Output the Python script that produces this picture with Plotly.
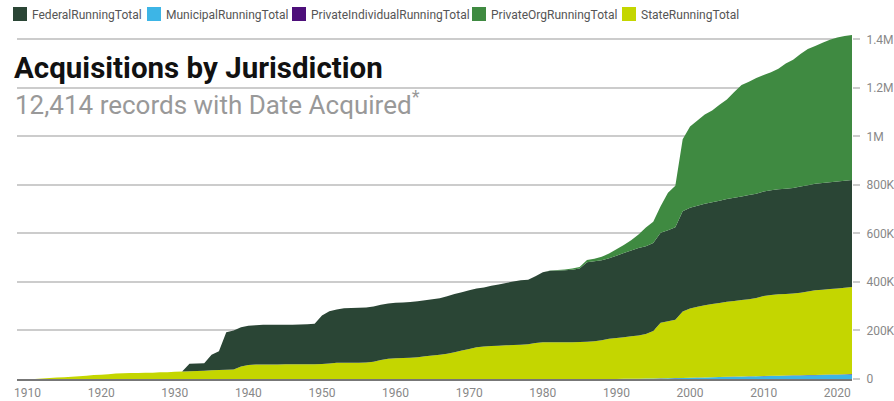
import plotly.graph_objects as go

# Running totals of acquired area by jurisdiction, one value per year (1908-2022)
years = list(range(1908, 2023))

federal = [
    0, 0,
    0, 0, 0, 0, 0, 0, 0, 0, 0, 0,                                                # 1910s
    0, 0, 0, 0, 0, 0, 0, 0, 0, 0,                                                # 1920s
    0, 0, 30700, 30700, 30700, 64000, 77700, 155000, 160000, 161000,             # 1930s
    161500, 162500, 163500, 163500, 163500, 163500, 163500, 164000, 165000, 167000,  # 1940s
    200500, 215000, 220500, 225000, 226000, 227000, 227500, 228000, 228000, 228000,  # 1950s
    228500, 229000, 230000, 230500, 231000, 231500, 233000, 237000, 240000, 241000,  # 1960s
    241500, 242000, 243000, 248000, 252500, 257000, 262000, 265500, 266000, 276000,  # 1970s
    289000, 294500, 295500, 296200, 298000, 302000, 327000, 329000, 330000, 332000,  # 1980s
    339000, 347000, 354000, 361000, 362000, 363000, 371000, 375000, 381000, 414000,  # 1990s
    415000, 416000, 418000, 420000, 422000, 424000, 425000, 426000, 429000, 430000,  # 2000s
    431000, 432000, 433000, 434000, 435000, 437000, 438000, 439000, 439500, 440000,  # 2010s
    440500, 441000, 441500,                                                      # 2020s
]

municipal = [
    0, 0,
    0, 0, 0, 0, 0, 0, 0, 0, 0, 0,
    0, 0, 0, 0, 0, 0, 0, 0, 0, 0,
    0, 0, 0, 0, 0, 0, 0, 0, 0, 0,
    0, 0, 0, 0, 0, 0, 0, 0, 0, 0,
    0, 0, 0, 0, 0, 0, 0, 0, 0, 0,
    0, 0, 0, 0, 0, 0, 0, 0, 0, 0,
    0, 0, 0, 0, 0, 0, 0, 0, 0, 0,
    0, 0, 0, 0, 0, 0, 0, 0, 0, 0,
    300, 600, 900, 1200, 1600, 2000, 2500, 3000, 3500, 4000,
    4800, 5500, 6200, 7000, 7800, 8500, 9200, 9800, 10400, 11000,
    11700, 12300, 12900, 13500, 14100, 14700, 15300, 15900, 16500, 17100,
    17700, 18300, 19000,
]

private_individual = [
    0, 0,
    0, 0, 0, 0, 0, 0, 0, 0, 0, 0,
    0, 0, 0, 0, 0, 0, 0, 0, 0, 0,
    0, 0, 0, 0, 0, 0, 0, 0, 0, 0,
    0, 0, 0, 0, 0, 0, 0, 0, 0, 0,
    0, 0, 0, 0, 0, 0, 0, 0, 0, 0,
    0, 0, 0, 0, 0, 0, 0, 0, 0, 0,
    0, 0, 0, 0, 0, 0, 0, 0, 0, 0,
    0, 0, 0, 0, 0, 0, 0, 0, 0, 0,
    100, 120, 150, 180, 200, 230, 260, 300, 330, 360,
    400, 430, 460, 500, 530, 560, 600, 630, 660, 700,
    730, 760, 800, 830, 860, 900, 930, 960, 1000, 1030,
    1060, 1100, 1130,
]

private_org = [
    0, 0,
    0, 0, 0, 0, 0, 0, 0, 0, 0, 0,
    0, 0, 0, 0, 0, 0, 0, 0, 0, 0,
    0, 0, 0, 0, 0, 0, 0, 0, 0, 0,
    0, 0, 0, 0, 0, 0, 0, 0, 0, 0,
    0, 0, 0, 0, 0, 0, 0, 0, 0, 0,
    0, 0, 0, 0, 0, 0, 0, 0, 0, 0,
    0, 0, 0, 0, 0, 0, 0, 0, 0, 0,
    0, 1000, 2000, 3000, 5000, 7000, 10000, 11000, 14000, 19000,
    27000, 33000, 42000, 56000, 78000, 87000, 109000, 155000, 172000, 296000,
    335000, 352000, 368000, 378000, 395000, 410000, 436000, 460000, 467000, 477000,
    480000, 487000, 497000, 516000, 529000, 547000, 561000, 568000, 578500, 587000,
    594000, 597000, 597500,
]

state = [
    0, 0,
    0, 500, 2000, 4000, 6000, 7500, 9000, 11000, 13000, 17000,
    18000, 20000, 23000, 24000, 24500, 25000, 25500, 26000, 27500, 28000,
    29500, 30500, 32000, 33000, 34500, 36000, 37000, 38000, 39500, 52000,
    58000, 59500, 60000, 60000, 60000, 60500, 60500, 60500, 61000, 61000,
    61500, 64000, 66500, 67000, 67000, 67000, 67500, 71000, 78000, 83000,
    85500, 86500, 87500, 90000, 94000, 97000, 100000, 104000, 110000, 117000,
    124000, 131000, 134000, 136000, 137500, 139000, 140000, 141500, 143000, 148000,
    151000, 151500, 151500, 151800, 152000, 153000, 154000, 156000, 160000, 166000,
    168600, 171300, 175000, 177600, 183200, 195800, 229200, 234700, 240200, 273600,
    285800, 292100, 297300, 301500, 304700, 308900, 312200, 315600, 317900, 322300,
    329600, 332900, 335300, 336200, 337000, 340400, 344800, 349100, 350500, 352900,
    354700, 356600, 358900,
]

series_names = [
    "FederalRunningTotal",
    "MunicipalRunningTotal",
    "PrivateIndividualRunningTotal",
    "PrivateOrgRunningTotal",
    "StateRunningTotal",
]
series_values = {
    "FederalRunningTotal": federal,
    "MunicipalRunningTotal": municipal,
    "PrivateIndividualRunningTotal": private_individual,
    "PrivateOrgRunningTotal": private_org,
    "StateRunningTotal": state,
}
colors = {
    "FederalRunningTotal": "#2a4535",
    "MunicipalRunningTotal": "#3db5e6",
    "PrivateIndividualRunningTotal": "#4d0f7a",
    "PrivateOrgRunningTotal": "#3f8a41",
    "StateRunningTotal": "#c4d600",
}
# stacking order, bottom to top
stack_order = [
    "MunicipalRunningTotal",
    "PrivateIndividualRunningTotal",
    "StateRunningTotal",
    "FederalRunningTotal",
    "PrivateOrgRunningTotal",
]

x_ticks = list(range(1910, 2030, 10))
y_ticks = [0, 200000, 400000, 600000, 800000, 1000000, 1200000, 1400000]
y_tick_labels = ["0", "200K", "400K", "600K", "800K", "1M", "1.2M", "1.4M"]

# plot-area geometry in pixels, used to place the header and legend
W, H = 894, 401
PL, PR, PT, PB = 17, 42, 35, 22
PW, PH = W - PL - PR, H - PT - PB


def paper_x(px):
    return (px - PL) / PW


def paper_y(py):
    return 1 - (py - PT) / PH


fig = go.Figure()

for name in stack_order:
    fig.add_trace(go.Scatter(
        x=years, y=series_values[name], name=name,
        stackgroup="acq", mode="none",
        fillcolor=colors[name], showlegend=False,
    ))

# legend row: swatch + label, left to right
swatch_left = [13, 147, 292, 472, 622]
shapes = []
annotations = []
for name, sx in zip(series_names, swatch_left):
    shapes.append(dict(
        type="rect", xref="paper", yref="paper",
        x0=paper_x(sx), x1=paper_x(sx + 14), y0=paper_y(21), y1=paper_y(7),
        fillcolor=colors[name], line=dict(width=0), layer="above",
    ))
    annotations.append(dict(
        text=name, xref="paper", yref="paper",
        x=paper_x(sx + 17), y=paper_y(14.5), xanchor="left", yanchor="middle",
        showarrow=False, font=dict(family="Roboto", size=12, color="#555"),
    ))

annotations += [
    dict(
        text="Acquisitions by Jurisdiction",
        xref="paper", yref="paper", x=paper_x(12), y=paper_y(68),
        xanchor="left", yanchor="middle", showarrow=False,
        font=dict(family="Roboto", size=29.5, color="#111", weight="bold"),
    ),
    dict(
        text="12,414 records with Date Acquired<sup>*</sup>",
        xref="paper", yref="paper", x=paper_x(13), y=paper_y(102.5),
        xanchor="left", yanchor="middle", showarrow=False,
        font=dict(family="Roboto", size=26, color="#999"),
    ),
]

fig.update_layout(
    width=W, height=H,
    margin=dict(l=PL, r=PR, t=PT, b=PB),
    paper_bgcolor="white", plot_bgcolor="white",
    font=dict(family="Roboto", size=12, color="#888"),
    showlegend=False,
    xaxis=dict(
        range=[1908.57, 2022.0], tickvals=x_ticks, automargin=False,
        showgrid=False, zeroline=False,
        showline=True, linecolor="#777", linewidth=2,
        ticks="", ticklabelstandoff=2,
        tickfont=dict(family="Roboto", size=12, color="#888"),
    ),
    yaxis=dict(
        range=[0, 1418000], side="right", automargin=False,
        tickvals=y_ticks, ticktext=y_tick_labels,
        showgrid=True, gridcolor="#cccccc", gridwidth=1.5,
        zeroline=False, showline=False,
        ticks="outside", ticklen=7, tickcolor="#cccccc", tickwidth=1.5,
        ticklabelstandoff=4,
        tickfont=dict(family="Roboto", size=12, color="#888"),
    ),
    shapes=shapes,
    annotations=annotations,
)

fig.write_html("out.html")
